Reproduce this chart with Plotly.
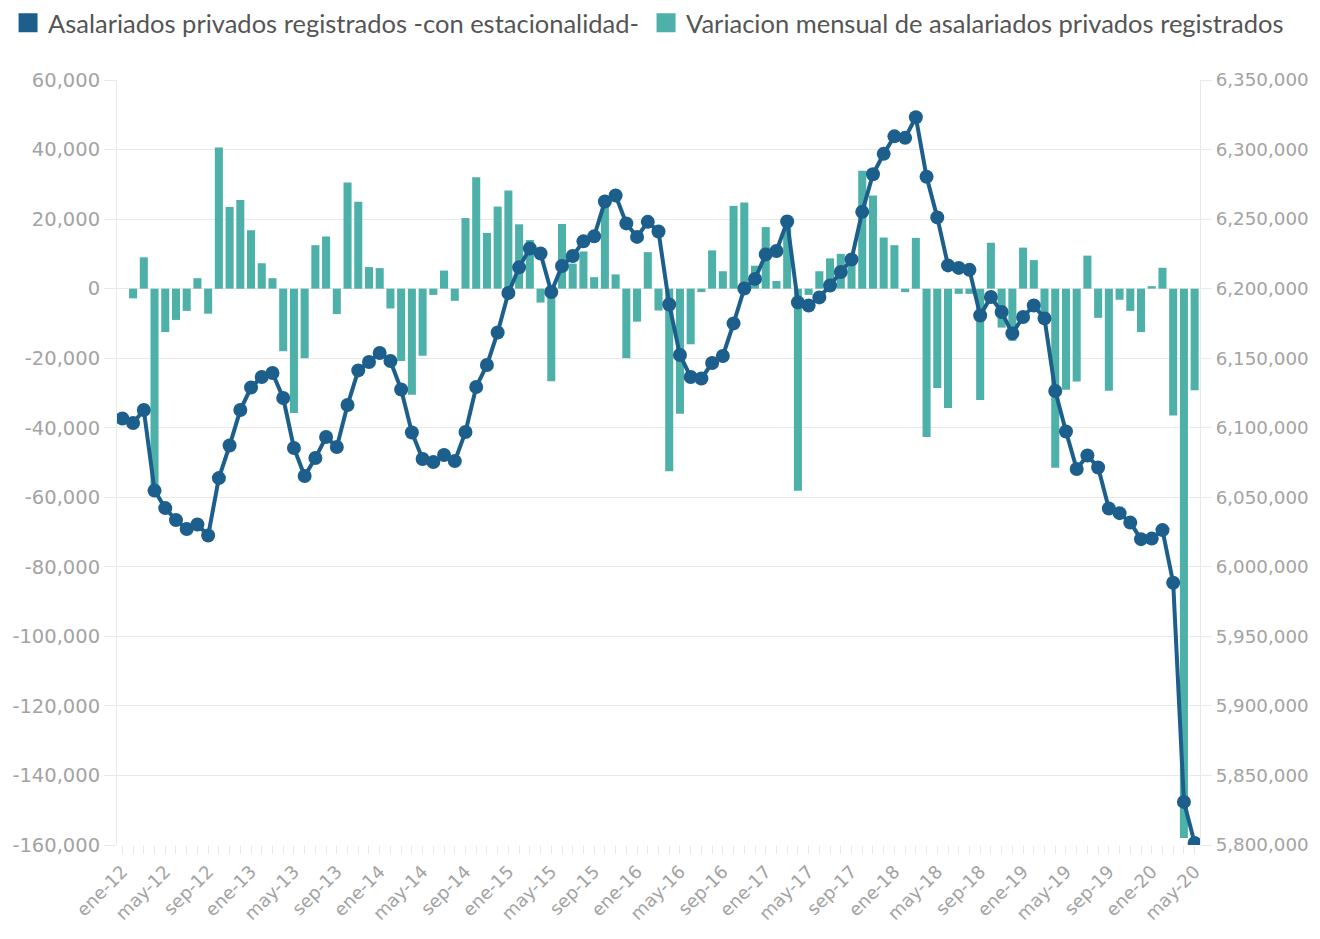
import plotly.graph_objects as go
from plotly.subplots import make_subplots

meses = ["ene", "feb", "mar", "abr", "may", "jun", "jul", "ago", "sep", "oct", "nov", "dic"]
periodos = [f"{m}-{a}" for a in range(12, 21) for m in meses][:101]

nivel = [
    6106600, 6103400, 6112700, 6054800, 6042200, 6033600, 6027100, 6030400, 6022500, 6063800,
    6087200, 6112700, 6128900, 6136500, 6139400, 6121400, 6085400, 6065300, 6078200, 6093300,
    6086100, 6116300, 6141200, 6147300, 6153700, 6148000, 6127500, 6096600, 6077500, 6075300,
    6080400, 6076000, 6096900, 6129300, 6145100, 6168500, 6196900, 6215300, 6228900, 6225300,
    6197600, 6216300, 6223500, 6234000, 6237600, 6262700, 6267000, 6246900, 6237200, 6248000,
    6241100, 6188600, 6152300, 6136500, 6135400, 6146500, 6151600, 6175000, 6200100, 6207000,
    6224600, 6227100, 6248300, 6190100, 6187900, 6193700, 6202300, 6212000, 6221000, 6255200,
    6282200, 6296900, 6309500, 6308400, 6323200, 6280400, 6251200, 6216700, 6214900, 6213500,
    6180700, 6194000, 6183200, 6167800, 6179600, 6187900, 6178600, 6126400, 6097300, 6070300,
    6080000, 6071400, 6041900, 6038600, 6031800, 6019900, 6020300, 6026400, 5988500, 5831000,
    5801500,
]

variacion = [
    None, -2800, 9000, -59000, -12500, -9000, -6400, 3000, -7200, 40600,
    23500, 25500, 16800, 7300, 3000, -18000, -35800, -20000, 12500, 15000,
    -7300, 30500, 25000, 6200, 5900, -5700, -20800, -30500, -19300, -1800,
    5200, -3500, 20300, 32000, 16000, 23600, 28200, 18500, 14000, -4000,
    -26600, 18600, 7200, 10700, 3300, 25200, 4100, -20000, -9500, 10500,
    -6300, -52500, -36000, -16000, -1000, 11000, 5000, 23800, 24800, 6600,
    17700, 2200, 21000, -58100, -1800, 5000, 8700, 10000, 9000, 33900,
    26800, 14700, 12500, -1000, 14600, -42700, -28600, -34300, -1500, -1500,
    -32000, 13200, -11200, -15000, 11800, 8200, -9300, -51500, -29100, -26700,
    9500, -8400, -29400, -3200, -6400, -12500, 700, 6000, -36500, -158000,
    -29200,
]

# left-axis ticks (hyphen minus as in the original)
ticks_izq = [60000, 40000, 20000, 0, -20000, -40000, -60000, -80000, -100000,
             -120000, -140000, -160000]
ticks_izq_txt = ["60,000", "40,000", "20,000", "0", "-20,000", "-40,000", "-60,000",
                 "-80,000", "-100,000", "-120,000", "-140,000", "-160,000"]

nombre_linea = "Asalariados privados registrados -con estacionalidad-"
nombre_barras = "Variacion mensual de asalariados privados registrados"

color_linea = "#1d5f8c"
color_barras = "#4db0a9"
gris_texto = "#a3a3a3"
gris_grid = "#e9e9e9"

tick_text = [p if i % 4 == 0 else "" for i, p in enumerate(periodos)]

fig = make_subplots(specs=[[{"secondary_y": True}]])

fig.add_trace(
    go.Bar(x=periodos, y=variacion, name=nombre_barras, marker_color=color_barras,
           marker_line_width=0, showlegend=False),
    secondary_y=False,
)
fig.add_trace(
    go.Scatter(x=periodos, y=nivel, name=nombre_linea, mode="lines+markers",
               line=dict(color=color_linea, width=4),
               marker=dict(color=color_linea, size=14),
               showlegend=False),
    secondary_y=True,
)
# legend entries (square swatches), one legend each so they sit side by side
fig.add_trace(go.Scatter(x=[None], y=[None], mode="markers", name=nombre_linea,
                         legend="legend", showlegend=True,
                         marker=dict(symbol="square", size=16, color=color_linea,
                                     line=dict(color=color_linea, width=3))),
              secondary_y=True)
fig.add_trace(go.Scatter(x=[None], y=[None], mode="markers", name=nombre_barras,
                         legend="legend2", showlegend=True,
                         marker=dict(symbol="square", size=16, color=color_barras,
                                     line=dict(color=color_barras, width=3))),
              secondary_y=True)

leg_font = dict(family="Lato", size=25.5, color="#555555")
fig.update_layout(
    width=1320, height=939,
    margin=dict(l=109, r=128, t=72, b=102, autoexpand=False),
    paper_bgcolor="white", plot_bgcolor="white",
    bargap=0.25,
    showlegend=True,
    legend=dict(orientation="h", x=-0.1006, xanchor="left", y=1.105, yanchor="top",
                font=leg_font, itemsizing="trace", bgcolor="rgba(0,0,0,0)"),
    legend2=dict(orientation="h", x=0.4885, xanchor="left", y=1.105, yanchor="top",
                 font=leg_font, itemsizing="trace", bgcolor="rgba(0,0,0,0)"),
    font=dict(family="DejaVu Sans"),
)

fig.update_xaxes(
    domain=[0, 1],
    type="category", range=[-0.5, 100.5], tickmode="array", tickvals=periodos,
    ticktext=tick_text, tickangle=-45, ticks="outside", ticklen=8, tickcolor=gris_grid,
    showgrid=False, showline=False, zeroline=False, automargin=False,
    tickfont=dict(family="DejaVu Sans", size=18, color=gris_texto),
)
fig.update_yaxes(
    range=[-160000, 60000], tickmode="array", tickvals=ticks_izq, ticktext=ticks_izq_txt,
    showgrid=True, gridcolor=gris_grid, gridwidth=1, zeroline=False,
    showline=True, linecolor=gris_grid, automargin=False,
    ticks="outside", ticklen=12, tickcolor=gris_grid,
    tickfont=dict(family="DejaVu Sans", size=19.5, color=gris_texto),
    secondary_y=False,
)
fig.update_yaxes(
    range=[5800000, 6350000], dtick=50000, tickformat=",d",
    showgrid=False, zeroline=False, automargin=False,
    showline=True, linecolor=gris_grid,
    ticks="outside", ticklen=11, tickcolor=gris_grid,
    tickfont=dict(family="DejaVu Sans", size=18.3, color=gris_texto),
    secondary_y=True,
)

fig.write_html("out.html")
